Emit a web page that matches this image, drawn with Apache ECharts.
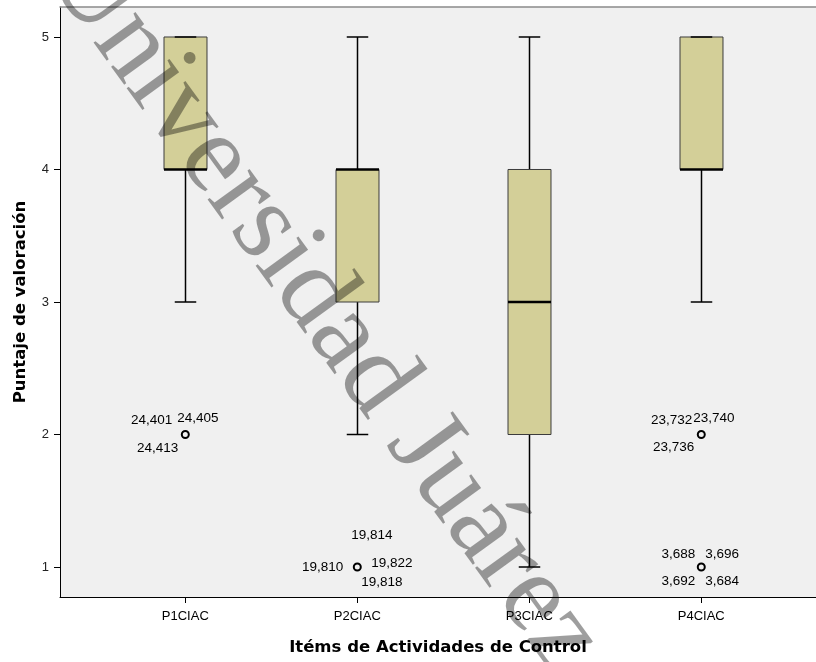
<!DOCTYPE html>
<html>
<head>
<meta charset="utf-8">
<script src="https://cdn.jsdelivr.net/npm/echarts@6/dist/echarts.min.js"></script>
<style>
  html, body { margin: 0; padding: 0; background: #ffffff; }
  #chart { width: 816px; height: 662px; }
</style>
</head>
<body>
<div id="chart"></div>
<script>
// ---- Data ----
const categories   = ['P1CIAC', 'P2CIAC', 'P3CIAC', 'P4CIAC'];
const whiskerLow   = [3, 2, 1, 3];
const quartile1    = [4, 3, 2, 4];
const medians      = [4, 4, 3, 4];
const quartile3    = [5, 4, 4, 5];
const whiskerHigh  = [5, 5, 5, 5];
const yTickValues  = [1, 2, 3, 4, 5];

const outlierCategory = ['P1CIAC', 'P2CIAC', 'P4CIAC', 'P4CIAC'];
const outlierValue    = [2, 1, 2, 1];
const outlierCaseIds  = [
  ['24,401', '24,405', '24,413'],
  ['19,814', '19,810', '19,822', '19,818'],
  ['23,732', '23,740', '23,736'],
  ['3,688', '3,696', '3,692', '3,684']
];

const xAxisTitle = 'Itéms de Actividades de Control';
const yAxisTitle = 'Puntaje de valoración';
const watermarkText = 'Universidad Juárez Autónoma de Tabasco';

// ---- Label placement around each outlier marker (pixels, styling only) ----
const labelLayout = [
  [[-13, -14, 'right'], [-8, -16, 'left'], [-7, 14, 'right']],
  [[-6, -32, 'left'], [-14, 0, 'right'], [14, -4, 'left'], [4, 15, 'left']],
  [[-9, -14, 'right'], [-8, -16, 'left'], [-7, 13, 'right']],
  [[-6, -13, 'right'], [4, -13, 'left'], [-6, 14, 'right'], [4, 14, 'left']]
];

// ---- Build series data from arrays ----
const boxData = categories.map((c, i) =>
  [i + 1, whiskerLow[i], quartile1[i], medians[i], quartile3[i], whiskerHigh[i]]);
const outlierData = outlierCategory.map((c, i) => [categories.indexOf(c) + 1, outlierValue[i]]);
const labelData = [];
const labelMeta = [];
outlierCaseIds.forEach((ids, g) => {
  ids.forEach((id, j) => {
    labelData.push([categories.indexOf(outlierCategory[g]) + 1, outlierValue[g]]);
    labelMeta.push({ text: id, g: g, j: j });
  });
});

const X_MIN = 0.2715, X_MAX = 4.667;
const Y_MIN = 0.7736, Y_MAX = 5.2264;
const catValues = categories.map((c, i) => i + 1);

function renderBox(params, api) {
  const x = api.value(0);
  const pLo = api.coord([x, api.value(1)]);
  const pQ1 = api.coord([x, api.value(2)]);
  const pMed = api.coord([x, api.value(3)]);
  const pQ3 = api.coord([x, api.value(4)]);
  const pHi = api.coord([x, api.value(5)]);
  const bw = api.size([0.25, 0])[0];
  const cx = Math.round(pLo[0]) + 0.5;
  const half = bw / 2;
  const cap = bw / 4;
  const wStyle = { stroke: '#000', lineWidth: 1.5 };
  return {
    type: 'group',
    children: [
      { type: 'line', shape: { x1: cx, y1: pQ1[1], x2: cx, y2: pLo[1] }, style: wStyle },
      { type: 'line', shape: { x1: cx, y1: pQ3[1], x2: cx, y2: pHi[1] }, style: wStyle },
      { type: 'rect', shape: { x: cx - half, y: pQ3[1], width: bw, height: pQ1[1] - pQ3[1] },
        style: { fill: '#D3CF98', stroke: '#3c3c3c', lineWidth: 1 } },
      { type: 'line', shape: { x1: cx - half, y1: pMed[1], x2: cx + half, y2: pMed[1] },
        style: { stroke: '#000', lineWidth: 2.5 } },
      { type: 'line', shape: { x1: cx - cap, y1: pLo[1], x2: cx + cap, y2: pLo[1] }, style: wStyle },
      { type: 'line', shape: { x1: cx - cap, y1: pHi[1], x2: cx + cap, y2: pHi[1] }, style: wStyle }
    ]
  };
}

function renderLabel(params, api) {
  const p = api.coord([api.value(0), api.value(1)]);
  const m = labelMeta[params.dataIndex];
  const lay = labelLayout[m.g][m.j];
  return {
    type: 'text',
    x: p[0] + lay[0],
    y: p[1] + lay[1],
    style: {
      text: m.text,
      fill: '#000',
      fontSize: 13.5,
      fontFamily: 'Liberation Sans, Arial, sans-serif',
      align: lay[2],
      verticalAlign: 'middle'
    }
  };
}

const chart = echarts.init(document.getElementById('chart'), null, { renderer: 'canvas' });
const titleFont = { fontFamily: 'DejaVu Sans, sans-serif', fontWeight: 'bold', fontSize: 16.5, color: '#000' };

chart.setOption({
  backgroundColor: '#ffffff',
  animation: false,
  grid: { left: 60, top: 7, right: 0, bottom: 65, show: true, backgroundColor: '#F0F0F0', borderWidth: 0 },
  xAxis: [{
    type: 'value',
    min: X_MIN, max: X_MAX,
    position: 'bottom',
    name: xAxisTitle,
    nameLocation: 'middle',
    nameGap: 42,
    nameTextStyle: titleFont,
    axisLine: { show: true, onZero: false, lineStyle: { color: '#000', width: 1 } },
    axisTick: { show: true, length: 6, customValues: catValues, lineStyle: { color: '#000' } },
    axisLabel: {
      show: true, customValues: catValues, margin: 13,
      formatter: v => categories[Math.round(v) - 1] || '',
      color: '#000', fontSize: 13, fontFamily: 'Liberation Sans, Arial, sans-serif'
    },
    splitLine: { show: false }
  }, {
    type: 'value',
    min: X_MIN, max: X_MAX,
    position: 'top',
    axisLine: { show: true, onZero: false, lineStyle: { color: '#8a8a8a', width: 1.5 } },
    axisTick: { show: false },
    axisLabel: { show: false },
    splitLine: { show: false }
  }],
  yAxis: {
    type: 'value',
    min: Y_MIN, max: Y_MAX,
    name: yAxisTitle,
    nameLocation: 'middle',
    nameRotate: 90,
    nameGap: 31,
    nameTextStyle: titleFont,
    axisLine: { show: true, onZero: false, lineStyle: { color: '#000', width: 1 } },
    axisTick: { show: true, length: 6, customValues: yTickValues, lineStyle: { color: '#000' } },
    axisLabel: {
      show: true, customValues: yTickValues, margin: 11,
      color: '#222', fontSize: 13, fontFamily: 'Liberation Sans, Arial, sans-serif'
    },
    splitLine: { show: false }
  },
  series: [
    {
      type: 'custom',
      name: 'box',
      renderItem: renderBox,
      encode: { x: 0, y: [1, 2, 3, 4, 5] },
      data: boxData,
      z: 2
    },
    {
      type: 'scatter',
      name: 'outliers',
      data: outlierData,
      symbol: 'circle',
      symbolSize: 7,
      itemStyle: { color: '#F0F0F0', borderColor: '#000', borderWidth: 2, opacity: 1 },
      z: 3
    },
    {
      type: 'custom',
      name: 'caseIds',
      renderItem: renderLabel,
      encode: { x: 0, y: 1 },
      data: labelData,
      z: 4
    }
  ],
  graphic: [{
    type: 'text',
    x: 68,
    y: -43,
    rotation: -54 * Math.PI / 180,
    z: 100,
    silent: true,
    style: {
      text: watermarkText,
      fill: 'rgba(0,0,0,0.38)',
      fontSize: 113,
      fontFamily: 'Liberation Serif, serif',
      align: 'left',
      verticalAlign: 'middle'
    }
  }]
});
</script>
</body>
</html>
